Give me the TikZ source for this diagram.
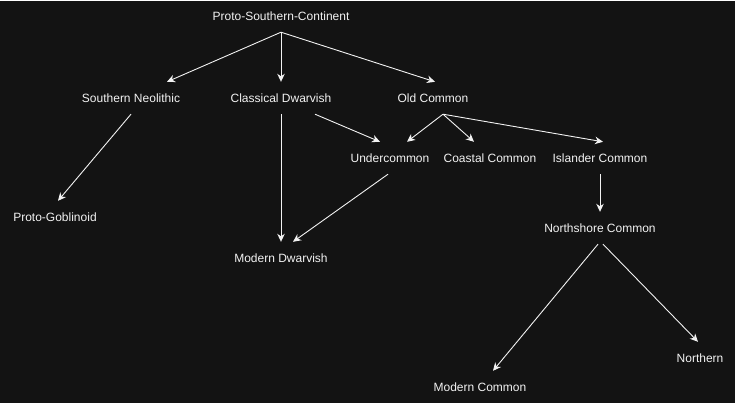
\documentclass[tikz,border=0pt]{standalone}
\usepackage{fontspec}
\setmainfont{Liberation Sans}
\usetikzlibrary{arrows.meta}
\definecolor{bgdark}{HTML}{131313}
\definecolor{inkwhite}{HTML}{F2F2F2}

\begin{document}
\begin{tikzpicture}[
            x=1pt, y=-1pt,
            every node/.style={font=\fontsize{12}{14}\selectfont},
            lang/.style={
                text=inkwhite,
                minimum height=32pt,
                inner sep=0pt
            },
            arrow/.style={
                -{Stealth[length=8pt,width=7.5pt,inset=2.5pt]},
                line width=0.9pt,
                draw=inkwhite
            }
        ]
            % Background
            \fill[bgdark] (0,0) rectangle (735,402);

            % Root
            \node[lang] (proto) at (281,15) {Proto-Southern-Continent};

            % First branch
            \node[lang] (neolithic) at (131,97) {Southern Neolithic};
            \node[lang] (classical) at (281,97) {Classical Dwarvish};
            \node[lang] (oldcommon) at (433,97) {Old Common};

            % Second branch
            \node[lang] (under) at (390,157) {Undercommon};
            \node[lang] (coastal) at (490,157) {Coastal Common};
            \node[lang] (islander) at (600,157) {Islander Common};
            \node[lang] (goblinoid) at (55,216) {Proto-Goblinoid};
            \node[lang] (northshore) at (600,227) {Northshore Common};
            \node[lang] (moddwarvish) at (281,257) {Modern Dwarvish};
            \node[lang] (northern) at (700,357) {Northern};
            \node[lang] (modcommon) at (480,386) {Modern Common};

            % Root links
            \draw[arrow] (proto.south) -- ([xshift=36pt]neolithic.north);
            \draw[arrow] (proto.south) -- (classical.north);
            \draw[arrow] (proto.south) -- ([xshift=2pt]oldcommon.north);

            % Dwarvish and goblin links
            \draw[arrow] (neolithic.south) -- ([xshift=3pt]goblinoid.north);
            \draw[arrow] (classical.south) -- (moddwarvish.north);
            \draw[arrow] ([xshift=34pt]classical.south) -- ([xshift=-10pt]under.north);
            \draw[arrow] ([xshift=-2pt]under.south) -- ([xshift=12pt]moddwarvish.north);

            % Common links
            \draw[arrow] ([xshift=10pt]oldcommon.south) -- ([xshift=17pt]under.north);
            \draw[arrow] ([xshift=10pt]oldcommon.south) -- ([xshift=-16pt]coastal.north);
            \draw[arrow] ([xshift=10pt]oldcommon.south) -- ([xshift=3pt]islander.north);
            \draw[arrow] (islander.south) -- (northshore.north);
            \draw[arrow] ([xshift=-2pt]northshore.south) -- ([xshift=13pt]modcommon.north);
            \draw[arrow] ([xshift=3pt]northshore.south) -- ([xshift=-2pt]northern.north);
        \end{tikzpicture}
\end{document}
